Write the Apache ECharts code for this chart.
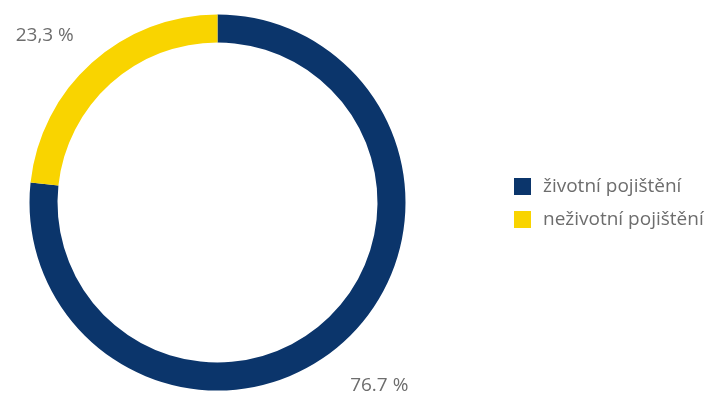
<!DOCTYPE html>
<html>
<head>
<meta charset="utf-8">
<script src="https://cdn.jsdelivr.net/npm/echarts@6/dist/echarts.min.js"></script>
<style>
  html, body { margin: 0; padding: 0; background: #ffffff; }
  #chart { width: 707px; height: 394px; }
</style>
</head>
<body>
<div id="chart"></div>
<script>
// Share of premiums by insurance type (%)
const categories = ['životní pojištění', 'neživotní pojištění'];
const shares = [76.7, 23.3];
const decimalMarks = ['.', ','];
const colors = ['#0b356b', '#f9d400'];

const CX = 217.5, CY = 202.5;
const LABEL_R = 245;
// small nudges for the percentage labels
const labelNudge = [[-2, 1], [-9, 15]];

const chart = echarts.init(document.getElementById('chart'), null, { renderer: 'canvas' });

const total = shares.reduce((a, b) => a + b, 0);
function midAngle(i) {
  let before = 0;
  for (let k = 0; k < i; k++) before += shares[k];
  const mid = before + shares[i] / 2;
  // start at 12 o'clock, run clockwise
  return (90 - mid / total * 360) * Math.PI / 180;
}

chart.setOption({
  animation: false,
  color: colors,
  legend: {
    orient: 'vertical',
    left: 514,
    top: 177,
    padding: 0,
    icon: 'rect',
    itemWidth: 17,
    itemHeight: 17,
    itemGap: 14,
    textStyle: { fontFamily: 'Open Sans', fontSize: 19, color: '#6d6d6d', padding: [0, 0, 0, 7] },
    data: categories
  },
  series: [{
    type: 'pie',
    center: [CX, CY],
    radius: [160, 188],
    startAngle: 90,
    clockwise: true,
    silent: true,
    label: {
      show: true,
      position: 'outside',
      overflow: 'none',
      formatter: p => p.value.toFixed(1).replace('.', decimalMarks[p.dataIndex]) + ' %',
      fontFamily: 'Open Sans',
      fontSize: 19,
      color: '#6d6d6d'
    },
    labelLine: { show: false },
    labelLayout: params => {
      const i = params.dataIndex;
      const a = midAngle(i);
      return {
        x: CX + LABEL_R * Math.cos(a) + labelNudge[i][0],
        y: CY - LABEL_R * Math.sin(a) + labelNudge[i][1],
        align: 'center',
        verticalAlign: 'middle'
      };
    },
    data: categories.map((name, i) => ({ name, value: shares[i] }))
  }]
});
</script>
</body>
</html>
